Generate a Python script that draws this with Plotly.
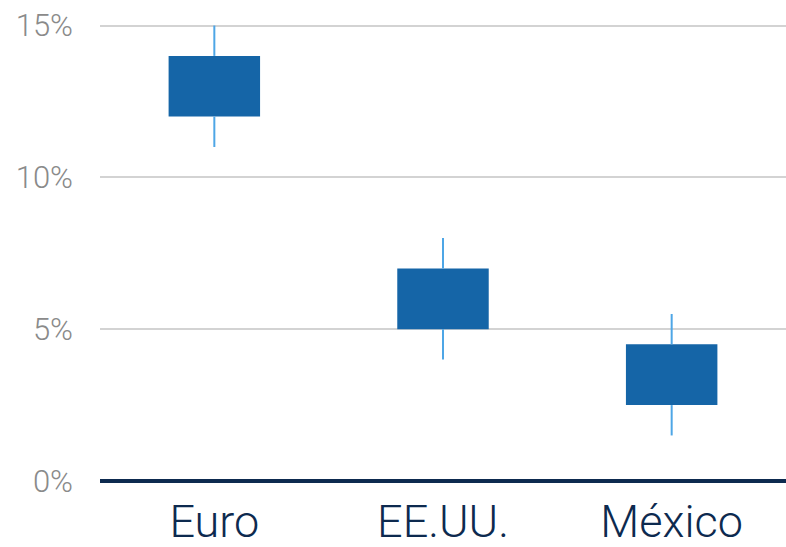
import plotly.graph_objects as go

categories = ["Euro", "EE.UU.", "México"]
low = [11, 4, 1.5]
box_low = [12, 5, 2.5]
box_high = [14, 7, 4.5]
high = [15, 8, 5.5]
y_ticks = [0, 5, 10, 15]
y_tick_labels = ["0%", "5%", "10%", "15%"]

fig = go.Figure()

# whiskers
wx, wy = [], []
for c, lo, bl, bh, hi in zip(categories, low, box_low, box_high, high):
    wx += [c, c, None, c, c, None]
    wy += [lo, bl, None, bh, hi, None]
fig.add_trace(go.Scatter(x=wx, y=wy, mode="lines",
                         line=dict(color="#4ea6e6", width=2),
                         hoverinfo="skip", showlegend=False))

fig.add_trace(go.Bar(x=categories, base=box_low,
                     y=[h - l for h, l in zip(box_high, box_low)],
                     width=0.4, marker=dict(color="#1565a7", line=dict(width=0)),
                     showlegend=False))

fig.update_layout(
    width=786, height=547,
    margin=dict(l=100, r=0, t=24, b=66),
    plot_bgcolor="white", paper_bgcolor="white",
    font=dict(family="Roboto", weight=300),
)
fig.update_xaxes(
    type="category", categoryorder="array", categoryarray=categories,
    showgrid=False, showline=False, zeroline=False, ticks="",
    tickfont=dict(size=45, color="#0d2a4f", family="Roboto", weight=300),
    ticklabelstandoff=10, automargin=False,
)
fig.update_yaxes(
    range=[0, 15.05], tickvals=y_ticks, ticktext=y_tick_labels,
    showgrid=True, gridcolor="#d3d3d3", gridwidth=2,
    zeroline=True, zerolinecolor="#0d2a4f", zerolinewidth=4,
    showline=False, ticks="", automargin=False,
    tickfont=dict(size=31, color="#8a8a8a", family="Roboto", weight=300),
    ticklabelstandoff=26,
)

fig.write_html("out.html", config={"displayModeBar": False},
               post_script="document.body.style.margin='0';")
